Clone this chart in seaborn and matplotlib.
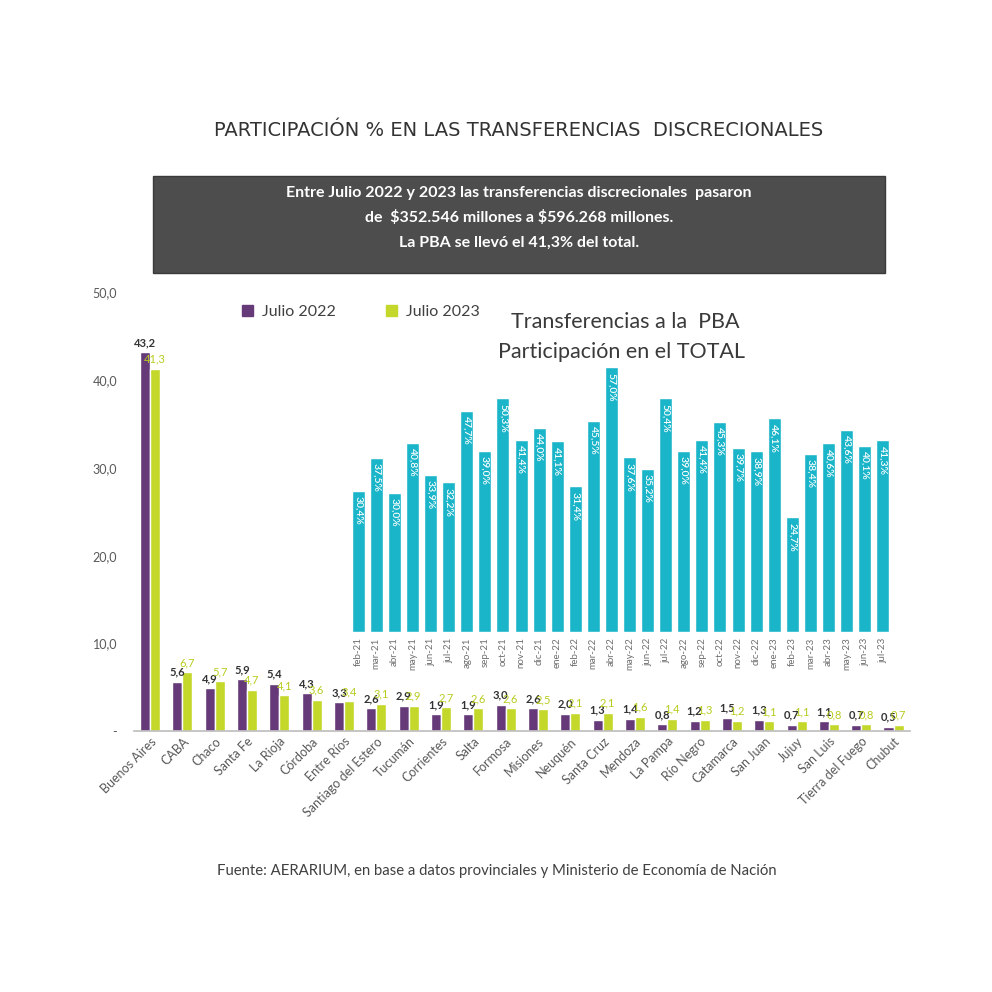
import matplotlib
matplotlib.use("Agg")
import matplotlib.pyplot as plt
import seaborn as sns
import pandas as pd
from matplotlib.patches import Patch, Rectangle

# Datos
provincias = ['Buenos Aires', 'CABA', 'Chaco', 'Santa Fe', 'La Rioja', 'Córdoba',
              'Entre Ríos', 'Santiago del Estero', 'Tucumán', 'Corrientes', 'Salta',
              'Formosa', 'Misiones', 'Neuquén', 'Santa Cruz', 'Mendoza', 'La Pampa',
              'Río Negro', 'Catamarca', 'San Juan', 'Jujuy', 'San Luis',
              'Tierra del Fuego', 'Chubut']
julio_2022 = [43.2, 5.6, 4.9, 5.9, 5.4, 4.3, 3.3, 2.6, 2.9, 1.9, 1.9, 3.0,
              2.6, 2.0, 1.3, 1.4, 0.8, 1.2, 1.5, 1.3, 0.7, 1.1, 0.7, 0.5]
julio_2023 = [41.3, 6.7, 5.7, 4.7, 4.1, 3.6, 3.4, 3.1, 2.9, 2.7, 2.6, 2.6,
              2.5, 2.1, 2.1, 1.6, 1.4, 1.3, 1.2, 1.1, 1.1, 0.8, 0.8, 0.7]

meses = ['feb-21', 'mar-21', 'abr-21', 'may-21', 'jun-21', 'jul-21', 'ago-21',
         'sep-21', 'oct-21', 'nov-21', 'dic-21', 'ene-22', 'feb-22', 'mar-22',
         'abr-22', 'may-22', 'jun-22', 'jul-22', 'ago-22', 'sep-22', 'oct-22',
         'nov-22', 'dic-22', 'ene-23', 'feb-23', 'mar-23', 'abr-23', 'may-23',
         'jun-23', 'jul-23']
participacion_pba = [30.4, 37.5, 30.0, 40.8, 33.9, 32.2, 47.7, 39.0, 50.3, 41.4,
                     44.0, 41.1, 31.4, 45.5, 57.0, 37.6, 35.2, 50.4, 39.0, 41.4,
                     45.3, 39.7, 38.9, 46.1, 24.7, 38.4, 40.6, 43.6, 40.1, 41.3]

morado = '#663a78'
verde = '#c3d82a'
cian = '#1bb5c9'
gris = '#595959'

sns.set_theme(style='white')
plt.rcParams['font.family'] = ['Lato', 'DejaVu Sans']

def fmt(v, suf=''):
    return f'{v:.1f}'.replace('.', ',') + suf

df = pd.DataFrame({
    'provincia': provincias * 2,
    'valor': julio_2022 + julio_2023,
    'serie': ['Julio 2022'] * len(provincias) + ['Julio 2023'] * len(provincias),
})

fig = plt.figure(figsize=(9.92, 9.92), dpi=100)
fig.patch.set_facecolor('white')

# Grafico principal
ax = fig.add_axes([0.135, 0.263, 0.782, 0.442])
sns.barplot(data=df, x='provincia', y='valor', hue='serie', palette=[morado, verde],
            width=0.62, saturation=1, ax=ax, legend=False)
ax.set_ylim(0, 50)
ax.set_yticks([0, 10, 20, 30, 40, 50])
ax.set_yticklabels(['-', '10,0', '20,0', '30,0', '40,0', '50,0'], color=gris, fontsize=9)
ax.set_xlabel('')
ax.set_ylabel('')
ax.tick_params(axis='x', length=0, pad=3)
ax.tick_params(axis='y', length=0, pad=12)
for lbl in ax.get_xticklabels():
    lbl.set_rotation(45)
    lbl.set_ha('right')
    lbl.set_rotation_mode('anchor')
    lbl.set_color(gris)
    lbl.set_fontsize(9)
for s in ['top', 'right', 'left']:
    ax.spines[s].set_visible(False)
ax.spines['bottom'].set_color('#bfbfbf')
ax.patch.set_alpha(0)

ax.bar_label(ax.containers[0], labels=[fmt(v) for v in julio_2022], padding=3,
             fontsize=8, fontweight='bold', color='#333333')
ax.bar_label(ax.containers[1], labels=[fmt(v) for v in julio_2023], padding=3,
             fontsize=8, color='#b8cc1e')

# Leyenda
handles = [Patch(color=morado, label='Julio 2022'), Patch(color=verde, label='Julio 2023')]
fig.legend(handles=handles, loc='center left', bbox_to_anchor=(0.229, 1 - 312 / 992),
           ncol=2, frameon=False, fontsize=11.5, handlelength=0.7, handleheight=0.7,
           handletextpad=0.6, columnspacing=3.1, labelcolor='#404040')

# Grafico insertado: participacion de la PBA
ax2 = fig.add_axes([0.352, 0.363, 0.547, 0.269])
sns.barplot(x=meses, y=participacion_pba, color=cian, width=0.72, saturation=1, ax=ax2)
ax2.set_ylim(0, 57.5)
ax2.set_yticks([])
ax2.tick_params(axis='x', length=0, pad=4)
for lbl in ax2.get_xticklabels():
    lbl.set_rotation(90)
    lbl.set_color('#6f6f6f')
    lbl.set_fontsize(7)
for s in ax2.spines.values():
    s.set_visible(False)
ax2.patch.set_alpha(0)
for p, v in zip(ax2.patches, participacion_pba):
    ax2.text(p.get_x() + p.get_width() / 2, p.get_height() - 1.2, fmt(v, '%'),
             rotation=270, ha='center', va='top', color='white', fontsize=7.5,
             fontweight='semibold')

fig.text(0.63, 1 - 322 / 992, 'Transferencias a la  PBA', ha='center', va='center',
         fontsize=15.5, color='#3a3a3a')
fig.text(0.627, 1 - 352 / 992, 'Participación en el TOTAL', ha='center', va='center',
         fontsize=15.5, color='#3a3a3a')

# Encabezado
fig.text(0.523, 1 - 131 / 992, 'PARTICIPACIÓN % EN LAS TRANSFERENCIAS  DISCRECIONALES',
         ha='center', va='center', fontsize=14, color='#333333', fontfamily='DejaVu Sans')
fig.patches.append(Rectangle((153 / 992, 1 - 273 / 992), 732 / 992, 97 / 992,
                             transform=fig.transFigure, facecolor='#4d4d4d',
                             edgecolor='#3a3a3a', zorder=0))
cabecera = ['Entre Julio 2022 y 2023 las transferencias discrecionales  pasaron',
            'de  $352.546 millones a $596.268 millones.',
            'La PBA se llevó el 41,3% del total.']
for i, linea in enumerate(cabecera):
    fig.text(0.523, 1 - (193 + 25 * i) / 992, linea, ha='center', va='center',
             fontsize=11.5, fontweight='bold', color='white', parse_math=False)

fig.text(0.501, 1 - 871 / 992,
         'Fuente: AERARIUM, en base a datos provinciales y Ministerio de Economía de Nación',
         ha='center', va='center', fontsize=10.75, color='#404040')

fig.savefig('out.png', dpi=100, facecolor='white')
